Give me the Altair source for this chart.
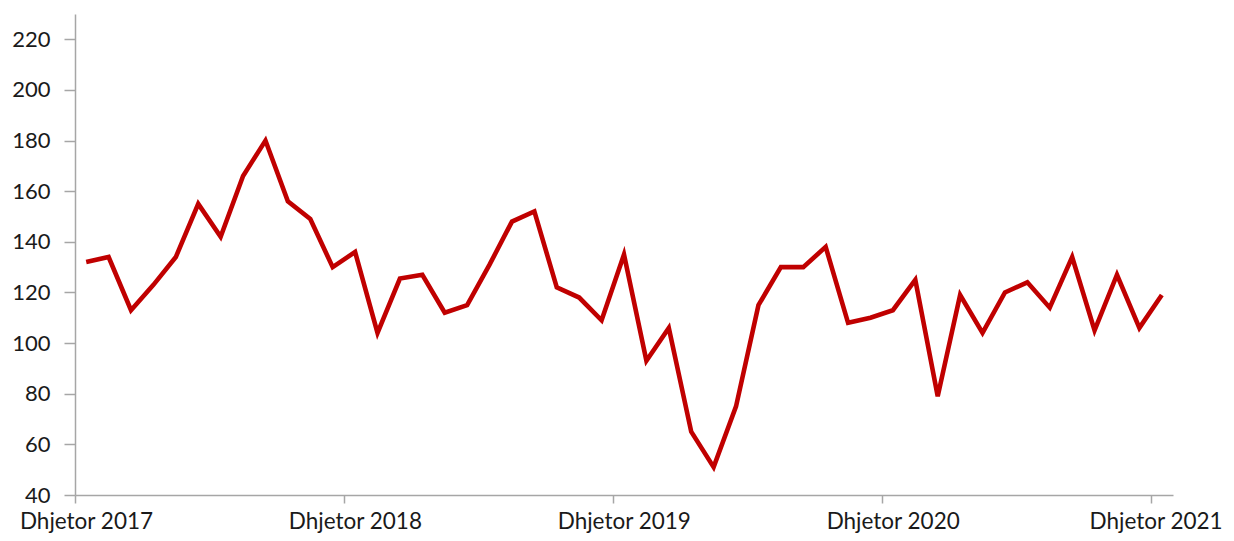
import altair as alt
import pandas as pd

# Monthly values, Dhjetor 2017 ... Dhjetor 2021 (49 months)
values = [132, 134, 113, 123, 134, 155, 142, 166, 180, 156, 149, 130,
          136, 104, 125.5, 127, 112, 115, 131, 148, 152, 122, 118, 109,
          135, 93, 106, 65, 51, 75, 115, 130, 130, 138, 108, 110,
          113, 125, 79, 119, 104, 120, 124, 114, 134, 105, 127, 106,
          119]
month_index = list(range(len(values)))

tick_positions = [-0.5, 11.5, 23.5, 35.5, 47.5]
tick_labels = ["Dhjetor 2017", "Dhjetor 2018", "Dhjetor 2019", "Dhjetor 2020", "Dhjetor 2021"]
y_ticks = [40, 60, 80, 100, 120, 140, 160, 180, 200, 220]

df = pd.DataFrame({"i": month_index, "v": values})

label_map = "{" + ",".join(f"'{p}':'{l}'" for p, l in zip(tick_positions, tick_labels)) + "}"

FONT = "Lato"

chart = alt.Chart(df).mark_line(color="#C00000", strokeWidth=4.6).encode(
    x=alt.X("i:Q",
            scale=alt.Scale(domain=[-0.5, 48.5], nice=False, zero=False),
            axis=alt.Axis(values=tick_positions, labelExpr=label_map + "['' + datum.value]",
                          title=None, grid=False, tickSize=8,
                          labelOffset={"condition": {"test": "datum.value > 40", "value": 5}, "value": 11},
                          labelPadding=7, labelFontSize=22.5, labelFont=FONT,
                          labelColor="#1a1a1a", domainColor="#a6a6a6", tickColor="#a6a6a6",
                          domainWidth=1.5, tickWidth=1.5, labelOverlap=False,
                          labelFlush=False)),
    y=alt.Y("v:Q",
            scale=alt.Scale(domain=[40, 230], nice=False, zero=False),
            axis=alt.Axis(values=y_ticks, title=None, grid=False, tickSize=11,
                          labelPadding=14, labelFontSize=22, labelFont=FONT,
                          labelColor="#1a1a1a", domainColor="#a6a6a6", tickColor="#a6a6a6",
                          domainWidth=1.5, tickWidth=1.5, labelOverlap=False)),
).properties(
    width=1098, height=481,
    autosize=alt.AutoSizeParams(type="none"),
    padding={"left": 67, "top": 6, "right": 53, "bottom": 38},
).configure_view(stroke=None)

chart.save("out.html", embed_options={"renderer": "svg", "actions": False})
